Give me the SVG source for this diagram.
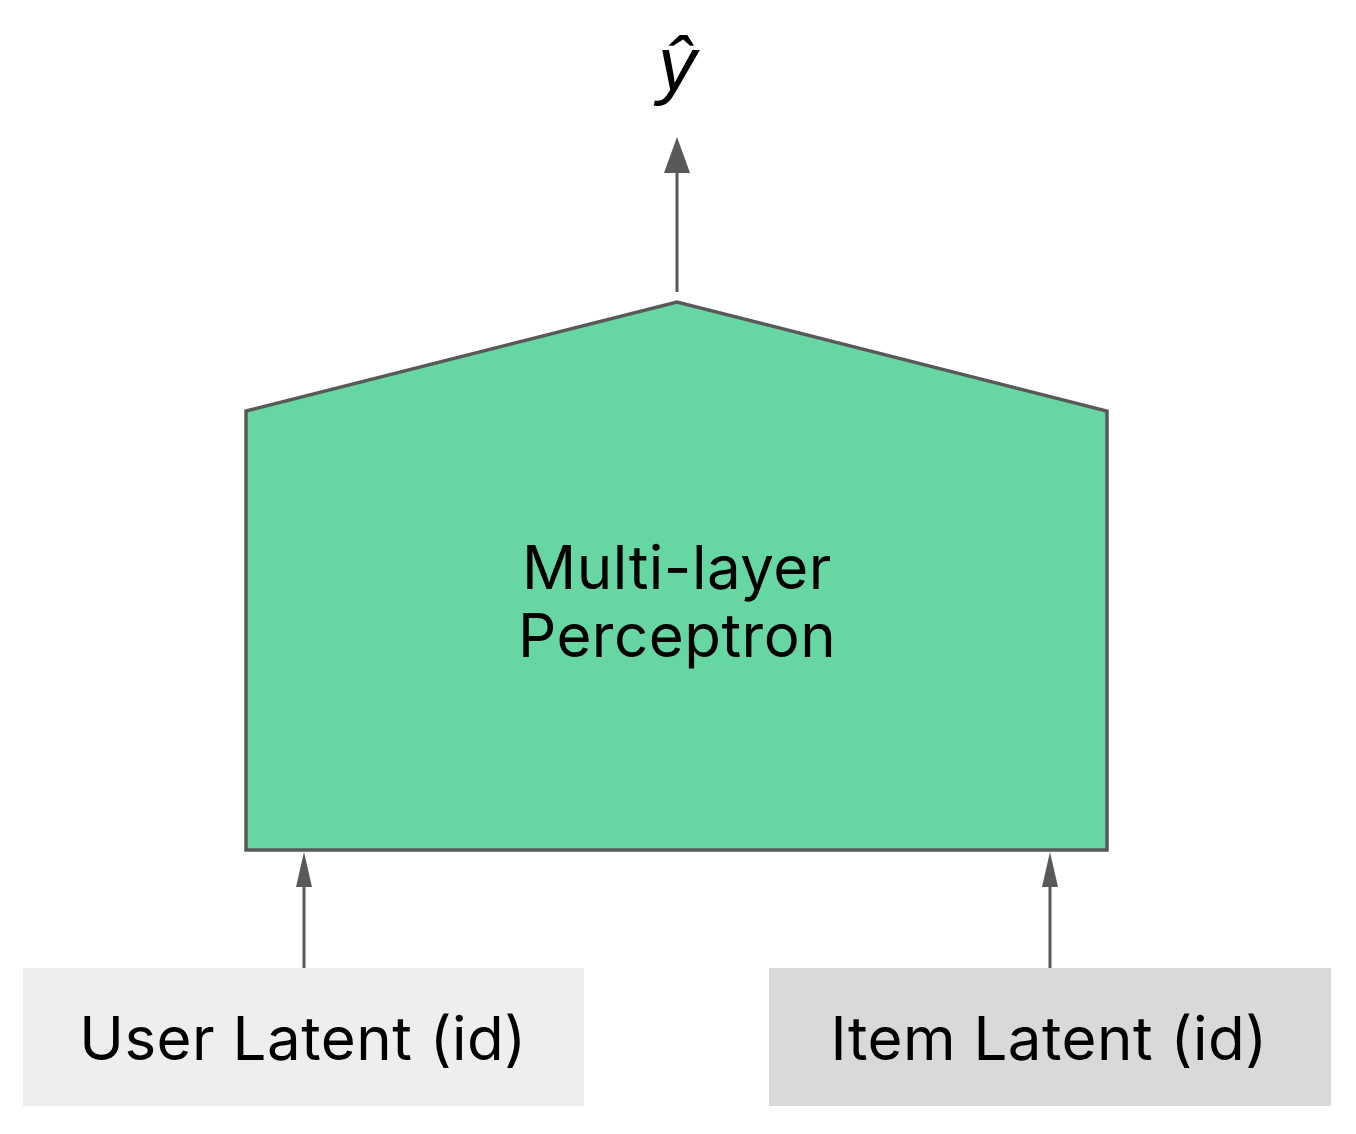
<svg xmlns="http://www.w3.org/2000/svg" width="1356" height="1134" viewBox="0 0 1356 1134">
<style>
.lbl{font-family:"Inter","Open Sans","Liberation Sans",sans-serif;font-size:60px;letter-spacing:0.5px;fill:#000;text-anchor:middle}
.edge{stroke:#595959;stroke-width:3;fill:none}
.head{fill:#595959}
</style>
<rect width="1356" height="1134" fill="#fff"/>
<g id="output">
<text x="677" y="90" font-family="Liberation Sans, sans-serif" font-style="italic" font-size="76" text-anchor="middle" fill="#000">ŷ</text>
</g>
<g id="mlp">
<polygon points="246,411 677,302 1107,411 1107,850 246,850" fill="#66d6a2" stroke="#595959" stroke-width="3.5" stroke-linejoin="miter"/>
<text class="lbl" x="677" y="589">Multi-layer</text>
<text class="lbl" x="677" y="657">Perceptron</text>
</g>
<g id="user">
<rect x="23" y="968" width="561" height="138" fill="#eeeeee"/>
<text class="lbl" x="303" y="1060">User Latent (id)</text>
</g>
<g id="item">
<rect x="769" y="968" width="562" height="138" fill="#d9d9d9"/>
<text class="lbl" x="1049" y="1060">Item Latent (id)</text>
</g>
<g id="connectors">
<line class="edge" x1="677" y1="292" x2="677" y2="170"/>
<polygon class="head" points="677,137 690,173 664,173"/>
<line class="edge" x1="304" y1="968" x2="304" y2="884"/>
<polygon class="head" points="304,852 312,887 296,887"/>
<line class="edge" x1="1050" y1="968" x2="1050" y2="884"/>
<polygon class="head" points="1050,852 1058,887 1042,887"/>
</g>
</svg>
